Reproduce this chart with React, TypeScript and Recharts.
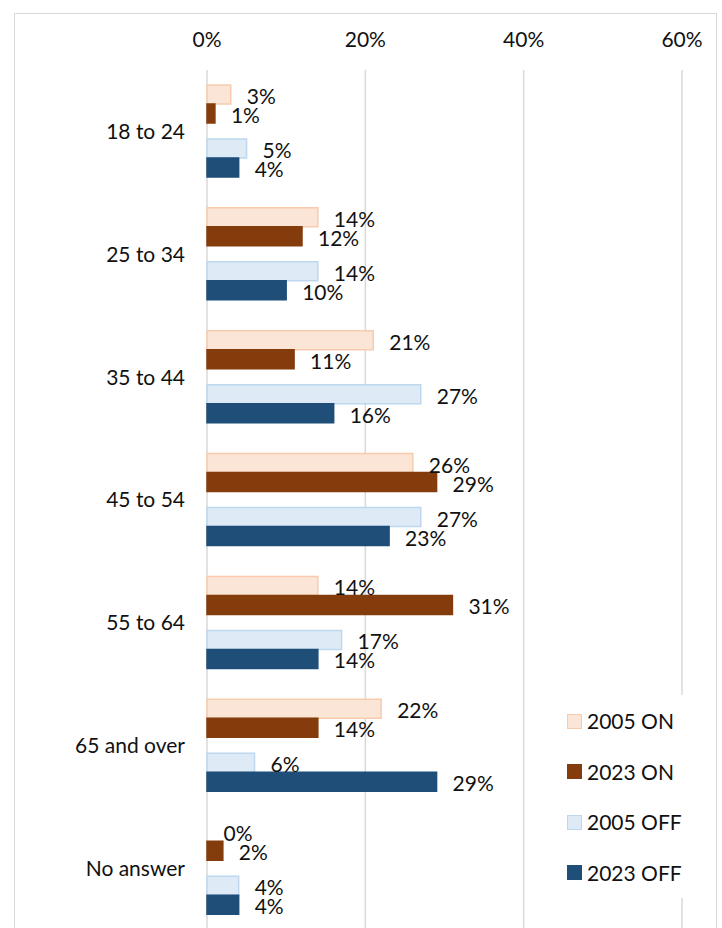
import { BarChart, Bar, XAxis, YAxis, CartesianGrid, LabelList, Cell } from 'recharts';

const categories = ['18 to 24', '25 to 34', '35 to 44', '45 to 54', '55 to 64', '65 and over', 'No answer'];
const on2005 = [3, 14, 21, 26, 14, 22, 0];
const on2023 = [1, 12, 11, 29, 31, 14, 2];
const off2005 = [5, 14, 27, 27, 17, 6, 4];
const off2023 = [4, 10, 16, 23, 14, 29, 4];
const xTicks = [0, 20, 40, 60];

const series = [
  { key: 'on2005', name: '2005 ON', fill: '#FBE5D6', stroke: '#F8CBAD', values: on2005 },
  { key: 'on2023', name: '2023 ON', fill: '#843C0C', stroke: '#843C0C', values: on2023 },
  { key: 'off2005', name: '2005 OFF', fill: '#DEEBF7', stroke: '#BDD7EE', values: off2005 },
  { key: 'off2023', name: '2023 OFF', fill: '#1F4E79', stroke: '#1F4E79', values: off2023 },
];

const data = categories.map((c, i) => ({
  age: c,
  on2005: on2005[i],
  on2023: on2023[i],
  gap: 0,
  off2005: off2005[i],
  off2023: off2023[i],
}));

const FONT = 'Lato, "Open Sans", sans-serif';
const pct = (v: any) => `${Math.round(Number(v))}%`;

function renderBar(s: (typeof series)[number]) {
  // minPointSize keeps a (hidden) rect for 0 values so the "0%" label still shows
  return (
    <Bar
      key={s.key}
      dataKey={s.key}
      name={s.name}
      fill={s.fill}
      stroke={s.stroke}
      strokeWidth={1.5}
      barSize={19}
      minPointSize={0.5}
      isAnimationActive={false}
    >
      {s.values.map((v, i) => (
        <Cell key={i} fill={v === 0 ? 'none' : s.fill} stroke={v === 0 ? 'none' : s.stroke} />
      ))}
      <LabelList
        dataKey={s.key}
        position="right"
        offset={16}
        dy={2}
        formatter={pct}
        style={{ fontSize: 21, fontFamily: FONT, fill: '#111' }}
      />
    </Bar>
  );
}

export default function App() {
  return (
    <div style={{ position: 'fixed', left: 0, top: 0, width: 722, height: 928, overflow: 'hidden', background: '#fff' }}>
      {/* chart frame, bottom edge runs off the picture */}
      <div
        style={{
          position: 'absolute',
          left: 14,
          top: 13,
          width: 703,
          height: 1000,
          border: '1.5px solid #D9D9D9',
          boxSizing: 'border-box',
        }}
      />
      <div style={{ position: 'absolute', left: 0, top: 0 }}>
        <BarChart
          width={718}
          height={930}
          data={data}
          layout="vertical"
          barGap={0}
          margin={{ top: 0, right: 36, bottom: 0, left: 0 }}
        >
          <CartesianGrid horizontal={false} stroke="#D9D9D9" strokeWidth={1.5} />
          <XAxis
            type="number"
            orientation="top"
            domain={[0, 60]}
            ticks={xTicks}
            tickFormatter={pct}
            axisLine={false}
            tickLine={false}
            height={70}
            tickMargin={17}
            tick={{ fontSize: 21, fontFamily: FONT, fill: '#111' }}
          />
          <YAxis
            type="category"
            dataKey="age"
            width={207}
            axisLine={false}
            tickLine={false}
            tickMargin={16}
            interval={0}
            tick={{ fontSize: 21, fontFamily: FONT, fill: '#111' }}
          />
          {renderBar(series[0])}
          {renderBar(series[1])}
          <Bar dataKey="gap" barSize={16} legendType="none" fill="none" isAnimationActive={false} />
          {renderBar(series[2])}
          {renderBar(series[3])}
        </BarChart>
      </div>

      {/* Legend */}
      <div
        style={{
          position: 'absolute',
          left: 558,
          top: 695,
          width: 146,
          height: 203,
          background: '#fff',
          fontFamily: FONT,
          fontSize: 21,
          color: '#111',
        }}
      >
        {series.map((s, i) => (
          <div
            key={s.key}
            style={{ position: 'absolute', left: 9, top: 14 + i * 50.5, height: 24, display: 'flex', alignItems: 'center' }}
          >
            <div
              style={{
                width: 15,
                height: 15,
                background: s.fill,
                border: `1.5px solid ${s.stroke}`,
                boxSizing: 'border-box',
                marginRight: 5,
              }}
            />
            <span style={{ lineHeight: '24px' }}>{s.name}</span>
          </div>
        ))}
      </div>
    </div>
  );
}
